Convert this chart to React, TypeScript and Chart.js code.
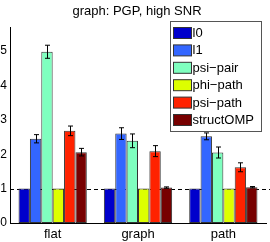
import React, { useEffect, useRef } from "react";
import Chart from "chart.js/auto";

const categories = ["flat", "graph", "path"];
const methods = ["l0", "l1", "psi−pair", "phi−path", "psi−path", "structOMP"];
const colors = ["#0000cc", "#3366ff", "#7fffbf", "#ddff00", "#ff2200", "#770000"];
const valL0 = [1, 1, 1];
const valL1 = [2.45, 2.6, 2.52];
const valPsiPair = [4.98, 2.39, 2.05];
const valPhiPath = [1, 1, 1];
const valPsiPath = [2.68, 2.09, 1.62];
const valStructOMP = [2.06, 1.03, 1.04];
const errL0 = [0, 0, 0];
const errL1 = [0.12, 0.17, 0.1];
const errPsiPair = [0.19, 0.2, 0.16];
const errPhiPath = [0, 0, 0];
const errPsiPath = [0.14, 0.16, 0.13];
const errStructOMP = [0.11, 0.02, 0.02];
const yTicks = [0, 1, 2, 3, 4, 5];
const titleText = "graph: PGP, high SNR";
const refLine = 1;

const values = [valL0, valL1, valPsiPair, valPhiPath, valPsiPath, valStructOMP];
const errors = [errL0, errL1, errPsiPair, errPhiPath, errPsiPath, errStructOMP];

const FONT = "'Liberation Sans', Arial, sans-serif";

const overlayPlugin = {
  id: "overlay",
  beforeDatasetsDraw(chart: any) {
    const ctx = chart.ctx;
    const ys = chart.scales.y;
    const area = chart.chartArea;
    ctx.save();
    ctx.strokeStyle = "#000";
    ctx.lineWidth = 1;
    ctx.setLineDash([4, 3]);
    const yr = Math.round(ys.getPixelForValue(refLine)) + 0.5;
    ctx.beginPath();
    ctx.moveTo(area.left, yr);
    ctx.lineTo(area.right + 10, yr);
    ctx.stroke();
    ctx.restore();
  },
  afterDatasetsDraw(chart: any) {
    const ctx = chart.ctx;
    const ys = chart.scales.y;
    ctx.save();
    // error bars
    chart.data.datasets.forEach((ds: any, i: number) => {
      const meta = chart.getDatasetMeta(i);
      meta.data.forEach((el: any, j: number) => {
        const e = errors[i][j];
        if (!e) return;
        const v = values[i][j];
        const x = Math.round(el.x) + 0.5;
        const yt = ys.getPixelForValue(v + e);
        const yb = ys.getPixelForValue(v - e);
        ctx.strokeStyle = "#000";
        ctx.lineWidth = 1;
        ctx.beginPath();
        ctx.moveTo(x, yt);
        ctx.lineTo(x, yb);
        ctx.moveTo(x - 2.5, yt);
        ctx.lineTo(x + 2.5, yt);
        ctx.moveTo(x - 2.5, yb);
        ctx.lineTo(x + 2.5, yb);
        ctx.stroke();
      });
    });
    // title
    ctx.fillStyle = "#000";
    ctx.font = `13px ${FONT}`;
    ctx.textAlign = "center";
    ctx.textBaseline = "middle";
    ctx.fillText(titleText, 137, 11);
    // legend
    const lx = 170.5, ly = 21.5, lw = 91, lh = 110;
    ctx.fillStyle = "#fff";
    ctx.fillRect(lx, ly, lw, lh);
    ctx.strokeStyle = "#555";
    ctx.lineWidth = 1;
    ctx.strokeRect(lx, ly, lw, lh);
    ctx.textAlign = "left";
    methods.forEach((m, i) => {
      const sy = 27.5 + i * 17.4;
      ctx.fillStyle = colors[i];
      ctx.fillRect(173.5, sy, 18, 11);
      ctx.strokeStyle = "#333";
      ctx.strokeRect(173.5, sy, 18, 11);
      ctx.fillStyle = "#000";
      ctx.font = `13px ${FONT}`;
      ctx.fillText(m, 192.5, sy + 6);
    });
    ctx.restore();
  },
};

export default function App() {
  const ref = useRef<HTMLCanvasElement>(null);
  useEffect(() => {
    document.body.style.margin = "0";
    const chart = new Chart(ref.current!, {
      type: "bar",
      data: {
        labels: categories,
        datasets: methods.map((m, i) => ({
          label: m,
          data: values[i],
          backgroundColor: colors[i],
          borderColor: "#333",
          borderWidth: 1,
          borderSkipped: false,
          barPercentage: 1,
          categoryPercentage: 0.8,
        })),
      },
      options: {
        animation: false,
        responsive: false,
        maintainAspectRatio: false,
        layout: { padding: { top: 27, right: 4, left: 0, bottom: 0 } },
        plugins: { legend: { display: false }, tooltip: { enabled: false }, title: { display: false } },
        scales: {
          x: {
            grid: { display: false, drawTicks: false },
            border: { display: true, color: "#000", width: 1 },
            ticks: { color: "#000", font: { size: 13, family: FONT }, padding: 4 },
            afterFit: (s: any) => { s.height = 19; },
          },
          y: {
            min: 0,
            max: 5.7,
            grid: { display: false, drawTicks: false },
            border: { display: true, color: "#000", width: 1 },
            ticks: { color: "#000", font: { size: 12, family: FONT }, padding: 3 },
            afterBuildTicks: (s: any) => { s.ticks = yTicks.map((v) => ({ value: v })); },
            afterFit: (s: any) => { s.width = 10; },
          },
        },
      },
      plugins: [overlayPlugin],
    });
    return () => chart.destroy();
  }, []);
  return (
    <div style={{ position: "absolute", left: 0, top: 0, width: 270, height: 242 }}>
      <canvas ref={ref} width={270} height={242} style={{ width: 270, height: 242 }} />
    </div>
  );
}
